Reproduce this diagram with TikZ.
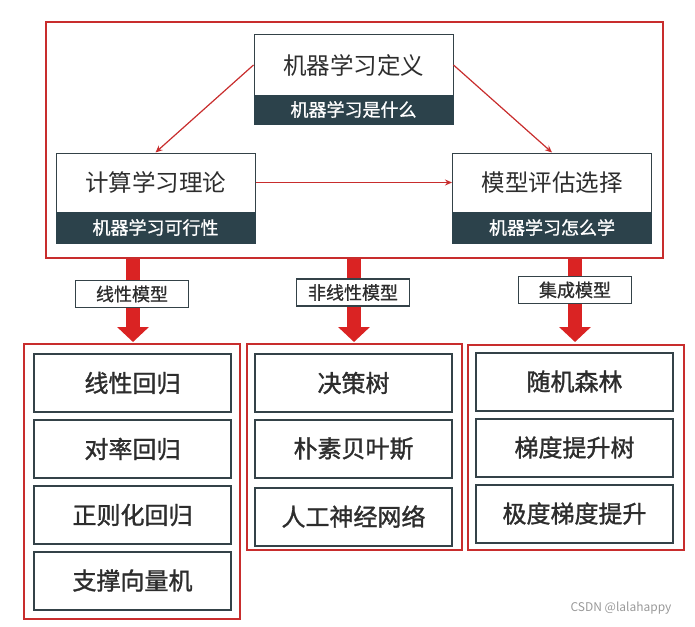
\documentclass[tikz,border=0pt]{standalone}
\usepackage{fontspec}
\newfontfamily\cjk{Noto Sans CJK SC}
\newfontfamily\cjkmed[FakeBold=1.3]{Noto Sans CJK SC}
\newfontfamily\cjklab[FakeBold=0.9]{Noto Sans CJK SC}
\usetikzlibrary{arrows.meta}
\definecolor{framered}{RGB}{200,45,45}
\definecolor{arrowred}{RGB}{218,35,35}
\definecolor{boxdark}{RGB}{52,66,72}
\definecolor{banddark}{RGB}{44,66,75}
\definecolor{textgray}{RGB}{45,45,45}
\begin{document}
\begin{tikzpicture}[x=1pt,y=-1pt,
  mainbox/.style={draw=boxdark,fill=white,line width=1pt,minimum width=199pt,minimum height=60pt,inner sep=0pt,text=textgray,font=\cjk\fontsize{23.5}{26}\selectfont},
  subbox/.style={draw=banddark,fill=banddark,line width=0.6pt,minimum width=199pt,minimum height=30pt,inner sep=0pt,text=white,font=\cjklab\fontsize{18}{20}\selectfont},
  itembox/.style={draw=boxdark,fill=white,line width=2pt,minimum width=197pt,minimum height=58pt,inner sep=0pt,text=textgray,font=\cjkmed\fontsize{24}{26}\selectfont},
  labelbox/.style={draw=boxdark,fill=white,line width=1.3pt,minimum width=113pt,minimum height=27pt,inner sep=0pt,text=textgray,font=\cjklab\fontsize{18}{20}\selectfont},
  groupframe/.style={draw=framered,line width=1.6pt,inner sep=0pt},
  thinarrow/.style={draw=framered,line width=1.2pt,-{Stealth[length=7pt,width=6pt]}},
  bigarrow/.style={draw=arrowred,line width=14pt,-{Triangle[length=15pt,width=31pt]}}
]
\useasboundingbox (0,0) rectangle (695,626);
% outer frame
\node[groupframe,minimum width=617pt,minimum height=236pt] (frame) at (354.5,140) {};
% top three nodes
\node[mainbox] (def) at (353.5,65) {机器学习定义};
\node[subbox,minimum height=29pt] (defsub) at (353.5,109.5) {机器学习是什么};
\node[mainbox,minimum height=59pt] (theory) at (155.5,182.5) {计算学习理论};
\node[subbox,minimum height=31pt] (theorysub) at (155.5,227.5) {机器学习可行性};
\node[mainbox,minimum height=59pt] (eval) at (552,182.5) {模型评估选择};
\node[subbox,minimum height=31pt] (evalsub) at (552,227.5) {机器学习怎么学};
\draw[thinarrow] (def.west) -- (theory.north);
\draw[thinarrow] (def.east) -- (eval.north);
\draw[thinarrow] (theory.east) -- (eval.west);
% group frames
\node[groupframe,minimum width=216pt,minimum height=275pt] (g1) at (132,481.5) {};
\node[groupframe,minimum width=215pt,minimum height=206pt] (g2) at (354.5,447) {};
\node[groupframe,minimum width=216pt,minimum height=205pt] (g3) at (576,447.5) {};
% big arrows
\coordinate (e1) at (133,342);
\coordinate (e2) at (354,342);
\coordinate (e3) at (575,342);
\draw[bigarrow] (frame.south -| e1) -- (e1);
\draw[bigarrow] (frame.south -| e2) -- (e2);
\draw[bigarrow] (frame.south -| e3) -- (e3);
\node[labelbox] (l1) at (132,294) {线性模型};
\node[labelbox] (l2) at (353,292.5) {非线性模型};
\node[labelbox] (l3) at (575,290) {集成模型};
% items
\node[itembox] (a1) at (132.5,383) {线性回归};
\node[itembox] (a2) at (132.5,449) {对率回归};
\node[itembox] (a3) at (132.5,515) {正则化回归};
\node[itembox] (a4) at (132.5,580.5) {支撑向量机};
\node[itembox] (b1) at (353.5,383) {决策树};
\node[itembox] (b2) at (353.5,448.5) {朴素贝叶斯};
\node[itembox] (b3) at (353.5,516.5) {人工神经网络};
\node[itembox] (c1) at (574.5,381.5) {随机森林};
\node[itembox] (c2) at (574.5,447.5) {梯度提升树};
\node[itembox] (c3) at (574.5,513.5) {极度梯度提升};
% watermark
\node[text=black!40,font=\cjk\fontsize{12}{14}\selectfont,inner sep=0pt] (wm) at (621,608) {CSDN @lalahappy};
\end{tikzpicture}
\end{document}
